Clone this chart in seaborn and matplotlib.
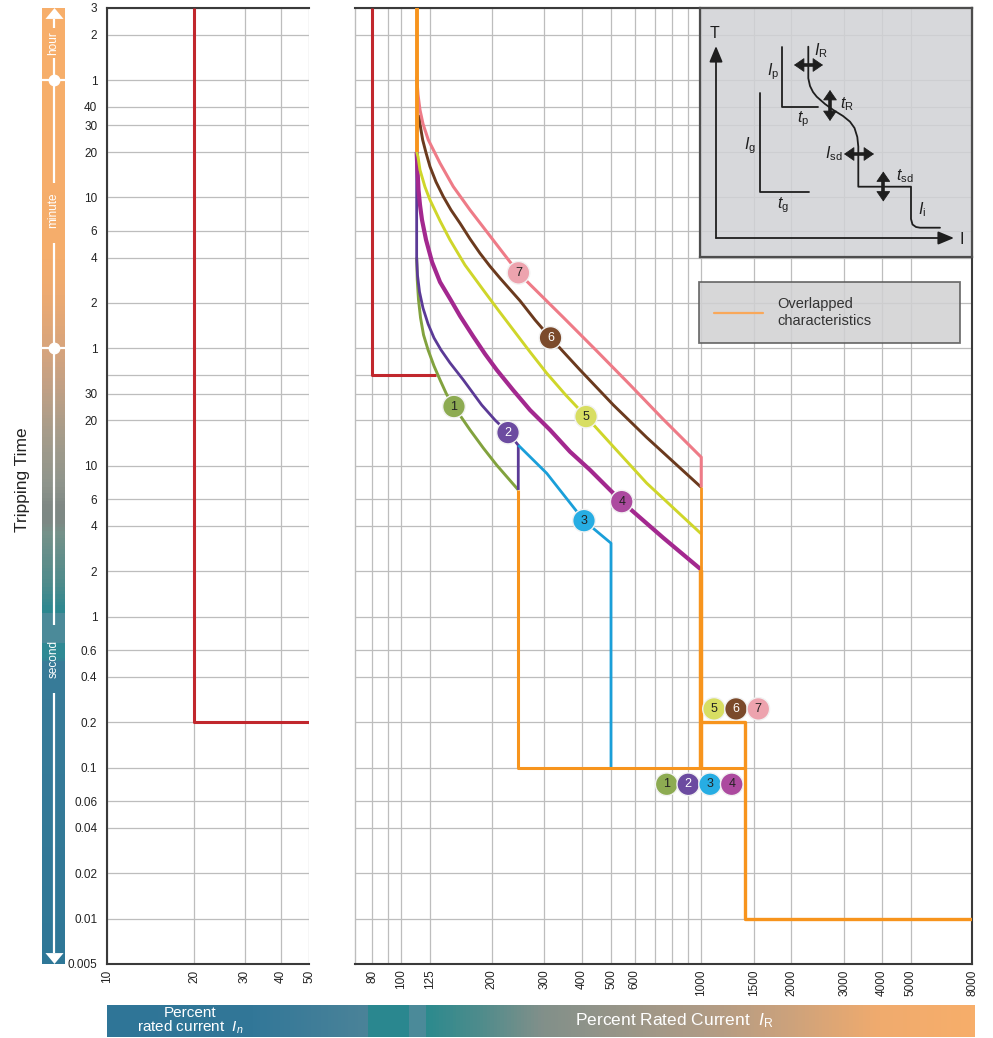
import matplotlib
matplotlib.use("Agg")
import numpy as np
import matplotlib.pyplot as plt
import seaborn as sns
from matplotlib.colors import LinearSegmentedColormap
from matplotlib.lines import Line2D
from matplotlib.path import Path
from matplotlib.ticker import NullLocator, NullFormatter

# ---- axes ranges and ticks (current in %, time in seconds) ----
T_MIN, T_MAX = 0.005, 10800
Y_TICKS = [0.005, 0.01, 0.02, 0.04, 0.06, 0.1, 0.2, 0.4, 0.6, 1, 2, 4, 6, 10, 20, 30, 40,
           60, 120, 240, 360, 600, 1200, 1800, 2400, 3600, 7200, 10800]
Y_LABELS = ["0.005", "0.01", "0.02", "0.04", "0.06", "0.1", "0.2", "0.4", "0.6", "1", "2", "4",
            "6", "10", "20", "30", "", "1", "2", "4", "6", "10", "20", "30", "40", "1", "2", "3"]
LEFT_XLIM = (10, 50)
LEFT_X_TICKS = [10, 20, 30, 40, 50]
RIGHT_XLIM = (70, 8000)
RIGHT_X_TICKS = [80, 100, 125, 200, 300, 400, 500, 600, 1000, 1500, 2000, 3000, 4000, 5000, 8000]
RIGHT_X_MINOR = [90, 700, 800, 900]

# ---- red characteristics ----
RED_LEFT_I = [20, 20, 50]
RED_LEFT_T = [10800, 0.2, 0.2]
RED_RIGHT_I = [80, 80, 130]
RED_RIGHT_T = [10800, 40, 40]

# ---- curves 1..7 ----
CURVE1_I = [112.4, 112.9, 114.0, 115.8, 118.5, 122.7, 128.4, 134.5, 141.3, 149.7, 169.3, 187.6,
            207.9, 245.3]
CURVE1_T = [240, 171, 126, 95.5, 73.7, 58.6, 45.9, 37.1, 29.9, 24.7, 17.3, 13.1, 10.1, 6.92]
CURVE2_I = [112.4, 112.4, 113.1, 114.9, 118.0, 122.7, 128.4, 135.5, 145.2, 160.8, 185.2, 205.2,
            226.7, 245.3, 245.3]
CURVE2_T = [1200, 240, 184, 142, 111, 87.1, 70.4, 58.6, 48.1, 37.1, 25.3, 20.1, 16.6, 13.7, 6.92]
CURVE3_I = [245.3, 305.1, 406.4, 500, 500]
CURVE3_T = [13.7, 8.93, 4.33, 3.07, 0.1]
CURVE4_I = [112.4, 113.1, 114.0, 115.3, 117.1, 120.8, 126.5, 134.5, 145.2, 156.8, 173.7, 190.0,
            207.9, 235.6, 268.5, 313.0, 365.0, 425.6, 543.0, 747.3, 1000]
CURVE4_T = [1200, 913, 673, 536, 426, 314, 224, 165, 128, 98.4, 71.8, 55.1, 43.2, 31.8, 23.4,
            17.3, 12.4, 9.39, 5.79, 3.33, 2.05]
CURVE5_I = [112.4, 113.6, 115.3, 119.8, 124.5, 134.5, 145.2, 162.9, 187.6, 210.0, 236.1, 268.5,
            305.1, 353.9, 412.7, 509.0, 657.9, 1000]
CURVE5_T = [1200, 1114, 913, 705, 578, 420, 314, 214, 146, 108, 79.5, 56.8, 41.1, 29.3, 21.2,
            13.4, 7.67, 3.54]
CURVE6_I = [114.4, 115.3, 117.7, 120.8, 124.5, 130.4, 137.9, 146.3, 156.8, 169.3, 182.8, 197.4,
            213.3, 248.6, 279.0, 314.2, 394.1, 509.0, 657.9, 1000]
CURVE6_T = [2114, 1843, 1445, 1184, 961, 761, 608, 496, 405, 319, 256, 210, 175, 124, 92.6,
            70.4, 43.2, 25.3, 15.4, 7.2]
CURVE7_I = [112.4, 113.6, 115.3, 118.0, 122.9, 134.5, 148.9, 169.3, 192.5, 218.7, 245.7, 268.5,
            346.7, 448.1, 578.7, 747.3, 1000, 1000]
CURVE7_T = [3800, 2869, 2283, 1843, 1445, 1012, 708, 496, 356, 256, 190, 159, 96.2, 57.7, 34.4,
            20.3, 11.4, 7.2]

# ---- overlapped (orange) parts ----
OVL_TOP_I = [112.4, 112.4]
OVL_TOP_T = [10800, 1200]
OVL_LOW_I = [245.3, 245.3, 1400]
OVL_LOW_T = [6.92, 0.1, 0.1]
OVL_MID_I = [1000, 1000]
OVL_MID_T = [7.2, 2.05]
OVL_MID2_I = [1000, 1000]
OVL_MID2_T = [2.05, 0.1]
OVL_INST_I = [1000, 1400, 1400, 8000]
OVL_INST_T = [0.2, 0.2, 0.01, 0.01]

# ---- numbered markers ----
MARK_ID = [1, 2, 3, 4, 5, 6, 7]
MARK_I = [149.7, 226.7, 406.4, 543, 412.7, 314.2, 245.7]
MARK_T = [24.7, 16.6, 4.33, 5.79, 21.2, 70.4, 190]
KEY_LOW_ID = [1, 2, 3, 4]
KEY_LOW_I = [767, 905, 1070, 1264]
KEY_LOW_T = [0.0776, 0.0776, 0.0776, 0.0776]
KEY_HIGH_ID = [5, 6, 7]
KEY_HIGH_I = [1103, 1306, 1550]
KEY_HIGH_T = [0.245, 0.245, 0.245]

# ---- time scale bar (seconds) ----
BAR_LINE_TOP = [9200, 5000, 300, 0.31]
BAR_LINE_BOT = [7900, 750, 0.88, 0.0059]
BAR_DOTS = [3600, 60]
BAR_WORDS = ["hour", "minute", "second"]
BAR_WORD_T = [6300, 490, 0.525]

# ---- schematic inset (own drawing units) ----
SK_IP_X = [781.7, 781.7, 817.7]
SK_IP_Y = [46.7, 107.3, 107.3]
SK_IG_X = [760, 760, 809.3]
SK_IG_Y = [92.7, 192.3, 192.3]
SK_MAIN_X = [808.3, 808.3, 810, 813, 816.7, 825, 833.3, 843, 850, 854.5, 857.3, 858.3, 858.3,
             911, 911, 912.5, 916, 920, 940]
SK_MAIN_Y = [46.7, 78.3, 86, 92, 96.7, 104, 110, 116, 121.7, 128, 137, 146.7, 186.7,
             186.7, 219, 224.5, 227, 227.7, 227.7]
SK_HARROWS = [(794, 823, 65), (844, 874, 154)]
SK_VARROWS = [(830, 90, 121), (883.3, 171.5, 201.5)]
SK_LABELS = [r"$I_{\rm R}$", r"$I_{\rm p}$", r"$t_{\rm R}$", r"$t_{\rm p}$", r"$I_{\rm g}$",
             r"$I_{\rm sd}$", r"$t_{\rm g}$", r"$t_{\rm sd}$", r"$I_{\rm i}$"]
SK_LABEL_X = [821, 773, 847, 803, 750, 834, 783, 905, 922]
SK_LABEL_Y = [51, 72, 104, 119, 146, 154, 205, 176, 210]

RED = "#c1272d"
ORANGE = "#f7941d"
CURVE_COLORS = ["#82a23e", "#5b3a96", "#1a9fd9", "#a3288f", "#cfd62a", "#6b3a1e", "#ee7b87"]
CURVE_WIDTHS = [2.1, 2.0, 2.0, 3.0, 2.1, 2.1, 2.2]
MARK_FACE = {1: "#8dab52", 2: "#6c4ba0", 3: "#27ade3", 4: "#ac4a9f", 5: "#d8de62", 6: "#7b4a2b", 7: "#eda3ae"}
MARK_TEXT = {1: "#222222", 2: "white", 3: "#222222", 4: "#222222", 5: "#222222", 6: "white", 7: "#222222"}
GRID = "#bdbdbd"
SPINE = "#3a3a3a"

W, H = 993, 1038


def box(x0, y0, x1, y1):
    return [x0 / W, 1 - y1 / H, (x1 - x0) / W, (y1 - y0) / H]


sns.set_theme(style="white")
plt.rcParams["font.family"] = ["Liberation Sans", "DejaVu Sans"]
plt.rcParams["mathtext.fontset"] = "custom"
plt.rcParams["mathtext.rm"] = "Liberation Sans"
plt.rcParams["mathtext.it"] = "Liberation Sans:italic"

fig = plt.figure(figsize=(9.93, 10.38), dpi=100)
fig.patch.set_facecolor("white")

ax_l = fig.add_axes(box(107, 8, 309, 964))
ax_r = fig.add_axes(box(355, 8, 972, 964))


def line(ax, xs, ys, color, lw, z=3):
    sns.lineplot(x=xs, y=ys, ax=ax, color=color, lw=lw, sort=False, estimator=None,
                 legend=False, zorder=z, solid_joinstyle="round", solid_capstyle="butt")


for ax, lim, ticks in ((ax_l, LEFT_XLIM, LEFT_X_TICKS), (ax_r, RIGHT_XLIM, RIGHT_X_TICKS)):
    ax.set_xscale("log")
    ax.set_yscale("log")
    ax.set_xlim(*lim)
    ax.set_ylim(T_MIN, T_MAX)
    ax.set_xticks(ticks)
    ax.set_xticklabels([str(t) for t in ticks], rotation=90)
    ax.set_yticks(Y_TICKS)
    ax.set_yticklabels(Y_LABELS)
    ax.yaxis.set_minor_locator(NullLocator())
    ax.xaxis.set_minor_locator(NullLocator())
    ax.grid(True, which="major", color=GRID, lw=0.9)
    ax.tick_params(axis="both", which="both", length=0, labelsize=8.5, colors="#222222")
    ax.tick_params(axis="x", pad=4)
    ax.tick_params(axis="y", pad=7)
    for s in ax.spines.values():
        s.set_color(SPINE)
        s.set_linewidth(1.5)
    ax.set_axisbelow(True)

ax_r.set_xticks(RIGHT_X_MINOR, minor=True)
ax_r.xaxis.set_minor_formatter(NullFormatter())
ax_r.xaxis.grid(True, which="minor", color=GRID, lw=0.9)
ax_r.tick_params(axis="y", labelleft=False)
ax_l.spines["right"].set_visible(False)
ax_r.spines["left"].set_color(GRID)
ax_r.spines["left"].set_linewidth(1.0)

# red characteristics
line(ax_l, RED_LEFT_I, RED_LEFT_T, RED, 2.2)
line(ax_r, RED_RIGHT_I, RED_RIGHT_T, RED, 2.2)

# curves
curves = [(CURVE1_I, CURVE1_T), (CURVE2_I, CURVE2_T), (CURVE3_I, CURVE3_T), (CURVE4_I, CURVE4_T),
          (CURVE5_I, CURVE5_T), (CURVE6_I, CURVE6_T), (CURVE7_I, CURVE7_T)]
for (xs, ys), c, w in zip(curves, CURVE_COLORS, CURVE_WIDTHS):
    line(ax_r, xs, ys, c, w)

# overlapped characteristics
line(ax_r, OVL_TOP_I, OVL_TOP_T, ORANGE, 2.8, z=4)
line(ax_r, OVL_LOW_I, OVL_LOW_T, ORANGE, 2.2, z=4)
line(ax_r, OVL_MID_I, OVL_MID_T, ORANGE, 2.0, z=4)
line(ax_r, OVL_MID2_I, OVL_MID2_T, ORANGE, 3.2, z=4)
line(ax_r, OVL_INST_I, OVL_INST_T, ORANGE, 2.4, z=4)
ax_r.set_xlim(*RIGHT_XLIM)
ax_r.set_ylim(T_MIN, T_MAX)
ax_l.set_xlim(*LEFT_XLIM)
ax_l.set_ylim(T_MIN, T_MAX)

# numbered balls
for ids, xs, ys in ((MARK_ID, MARK_I, MARK_T), (KEY_LOW_ID, KEY_LOW_I, KEY_LOW_T),
                    (KEY_HIGH_ID, KEY_HIGH_I, KEY_HIGH_T)):
    sns.scatterplot(x=xs, y=ys, hue=ids, palette=MARK_FACE, s=265, ax=ax_r, legend=False,
                    edgecolor="#f2f2f2", linewidth=1.0, zorder=6)
    for i, x, y in zip(ids, xs, ys):
        ax_r.text(x, y, str(i), ha="center", va="center", fontsize=9,
                  color=MARK_TEXT[i], zorder=7)

# legend
leg = ax_r.legend(handles=[Line2D([], [], color="#f9a85a", lw=1.6)],
                  labels=["Overlapped\ncharacteristics"], loc="center",
                  bbox_to_anchor=(699 / W, 1 - 347 / H, 261 / W, 69 / H),
                  bbox_transform=fig.transFigure, mode="expand", borderaxespad=0,
                  fontsize=10.5, handlelength=3.4, handletextpad=1.0, borderpad=1.0,
                  fancybox=False, frameon=True, facecolor="#d0d0d2", edgecolor="#5a5a5a",
                  framealpha=0.85)
leg.get_frame().set_linewidth(1.3)
for t in leg.get_texts():
    t.set_color("#333333")
    t.set_linespacing(1.35)

# schematic inset
ax_in = fig.add_axes(box(700, 8, 972, 257))
ax_in.set_facecolor((0.82, 0.824, 0.835, 0.85))
ax_in.set_xlim(700, 972)
ax_in.set_ylim(257, 8)
ax_in.set_xticks([])
ax_in.set_yticks([])
for s in ax_in.spines.values():
    s.set_color("#4d4d4d")
    s.set_linewidth(1.6)
ink = "#1e1e1e"
ax_in.annotate("", xy=(716, 46), xytext=(716, 238),
               arrowprops=dict(arrowstyle="-|>,head_length=0.6,head_width=0.25", color=ink,
                               lw=1.3, mutation_scale=16, shrinkA=0, shrinkB=0))
ax_in.annotate("", xy=(954, 238), xytext=(716, 238),
               arrowprops=dict(arrowstyle="-|>,head_length=0.6,head_width=0.25", color=ink,
                               lw=1.3, mutation_scale=16, shrinkA=0, shrinkB=0))
ax_in.text(715, 33, "T", ha="center", va="center", fontsize=11.5, color=ink)
ax_in.text(962, 240, "I", ha="center", va="center", fontsize=11.5, color=ink)
for xs, ys in ((SK_IP_X, SK_IP_Y), (SK_IG_X, SK_IG_Y), (SK_MAIN_X, SK_MAIN_Y)):
    ax_in.plot(xs, ys, color=ink, lw=1.3)
heads = dict(arrowstyle="<|-|>,head_length=0.55,head_width=0.38", color=ink, lw=0.6,
             mutation_scale=12, shrinkA=0, shrinkB=0)
for x0, x1, y in SK_HARROWS:
    ax_in.plot([x0 + 4, x1 - 4], [y, y], color=ink, lw=2.6, solid_capstyle="butt")
    ax_in.annotate("", xy=(x1, y), xytext=(x0, y), arrowprops=heads)
for x, y0, y1 in SK_VARROWS:
    ax_in.plot([x, x], [y0 + 4, y1 - 4], color=ink, lw=2.6, solid_capstyle="butt")
    ax_in.annotate("", xy=(x, y1), xytext=(x, y0), arrowprops=heads)
for lab, x, y in zip(SK_LABELS, SK_LABEL_X, SK_LABEL_Y):
    ax_in.text(x, y, lab, ha="center", va="center", fontsize=11.5, color=ink)

# y label
fig.text(23 / W, 1 - 480 / H, "Tripping Time", rotation=90, ha="center", va="center",
         fontsize=12.5, color="#222222")

# vertical time bar
bar_cmap = LinearSegmentedColormap.from_list("timebar", [
    (0.0, "#2e7797"), (0.317, "#387b98"), (0.318, "#2f8994"), (0.335, "#2f8994"),
    (0.336, "#4b8a99"), (0.366, "#4b8a99"), (0.367, "#2a8790"), (0.399, "#4f8b8b"),
    (0.451, "#759189"), (0.462, "#7c8884"), (0.480, "#7f8884"), (0.503, "#8f958c"),
    (0.555, "#a69c8a"), (0.608, "#c3a084"), (0.645, "#d7a47c"), (0.705, "#eeaa70"),
    (0.747, "#f5ad6b"), (1.0, "#f7ae6a")])
ax_bar = fig.add_axes(box(42, 8, 65, 964))
ax_bar.set_yscale("log")
edges = np.geomspace(T_MIN, T_MAX, 600)
frac = (np.log10(edges[:-1]) + np.log10(edges[1:])) / 2
frac = (frac - np.log10(T_MIN)) / (np.log10(T_MAX) - np.log10(T_MIN))
ax_bar.pcolormesh([0, 1], edges, frac[:, None], cmap=bar_cmap, vmin=0, vmax=1, shading="flat")
ax_bar.vlines([0.5] * len(BAR_LINE_TOP), BAR_LINE_BOT, BAR_LINE_TOP, color="white", lw=1.6)
ax_bar.hlines(BAR_DOTS, 0, 1, color="white", lw=1.6)
ax_bar.plot([0.5] * len(BAR_DOTS), BAR_DOTS, "o", color="white", ms=7.5)
tri_up = Path([(0, 0.6), (-1, -0.6), (1, -0.6), (0, 0.6)])
tri_dn = Path([(0, -0.6), (-1, 0.6), (1, 0.6), (0, -0.6)])
ax_bar.plot([0.5], [9950], marker=tri_up, color="white", ms=13, mew=0)
ax_bar.plot([0.5], [0.00545], marker=tri_dn, color="white", ms=13, mew=0)
for word, t in zip(BAR_WORDS, BAR_WORD_T):
    ax_bar.text(0.5, t, word, rotation=90, ha="center", va="center", fontsize=8.5, color="white")
ax_bar.set_xlim(0, 1)
ax_bar.set_ylim(T_MIN, T_MAX)
ax_bar.axis("off")

# horizontal current bar
cur_cmap = LinearSegmentedColormap.from_list("curbar", [
    (0.0, "#2f7597"), (0.165, "#327798"), (0.2995, "#4b8398"), (0.30, "#2a878f"),
    (0.3465, "#2a878f"), (0.347, "#4b8a99"), (0.366, "#4b8a99"), (0.3665, "#2b8a8e"),
    (0.43, "#4f8c8c"), (0.502, "#82908a"), (0.568, "#929489"), (0.683, "#ae9b86"),
    (0.787, "#cca27c"), (0.891, "#f0ab6e"), (1.0, "#f7ae6a")])
ax_cb = fig.add_axes(box(107, 1005, 975, 1037))
ax_cb.imshow(np.linspace(0, 1, 868)[None, :], aspect="auto", cmap=cur_cmap, extent=(0, 1, 0, 1))
ax_cb.text((190 - 107) / 868, 0.5, "Percent\nrated current  $I_n$", ha="center", va="center",
           fontsize=11, color="white", linespacing=0.95)
ax_cb.text((674 - 107) / 868, 0.5, r"Percent Rated Current  $I_{\rm R}$", ha="center",
           va="center", fontsize=12.5, color="white")
ax_cb.axis("off")

fig.savefig("out.png", dpi=100)
